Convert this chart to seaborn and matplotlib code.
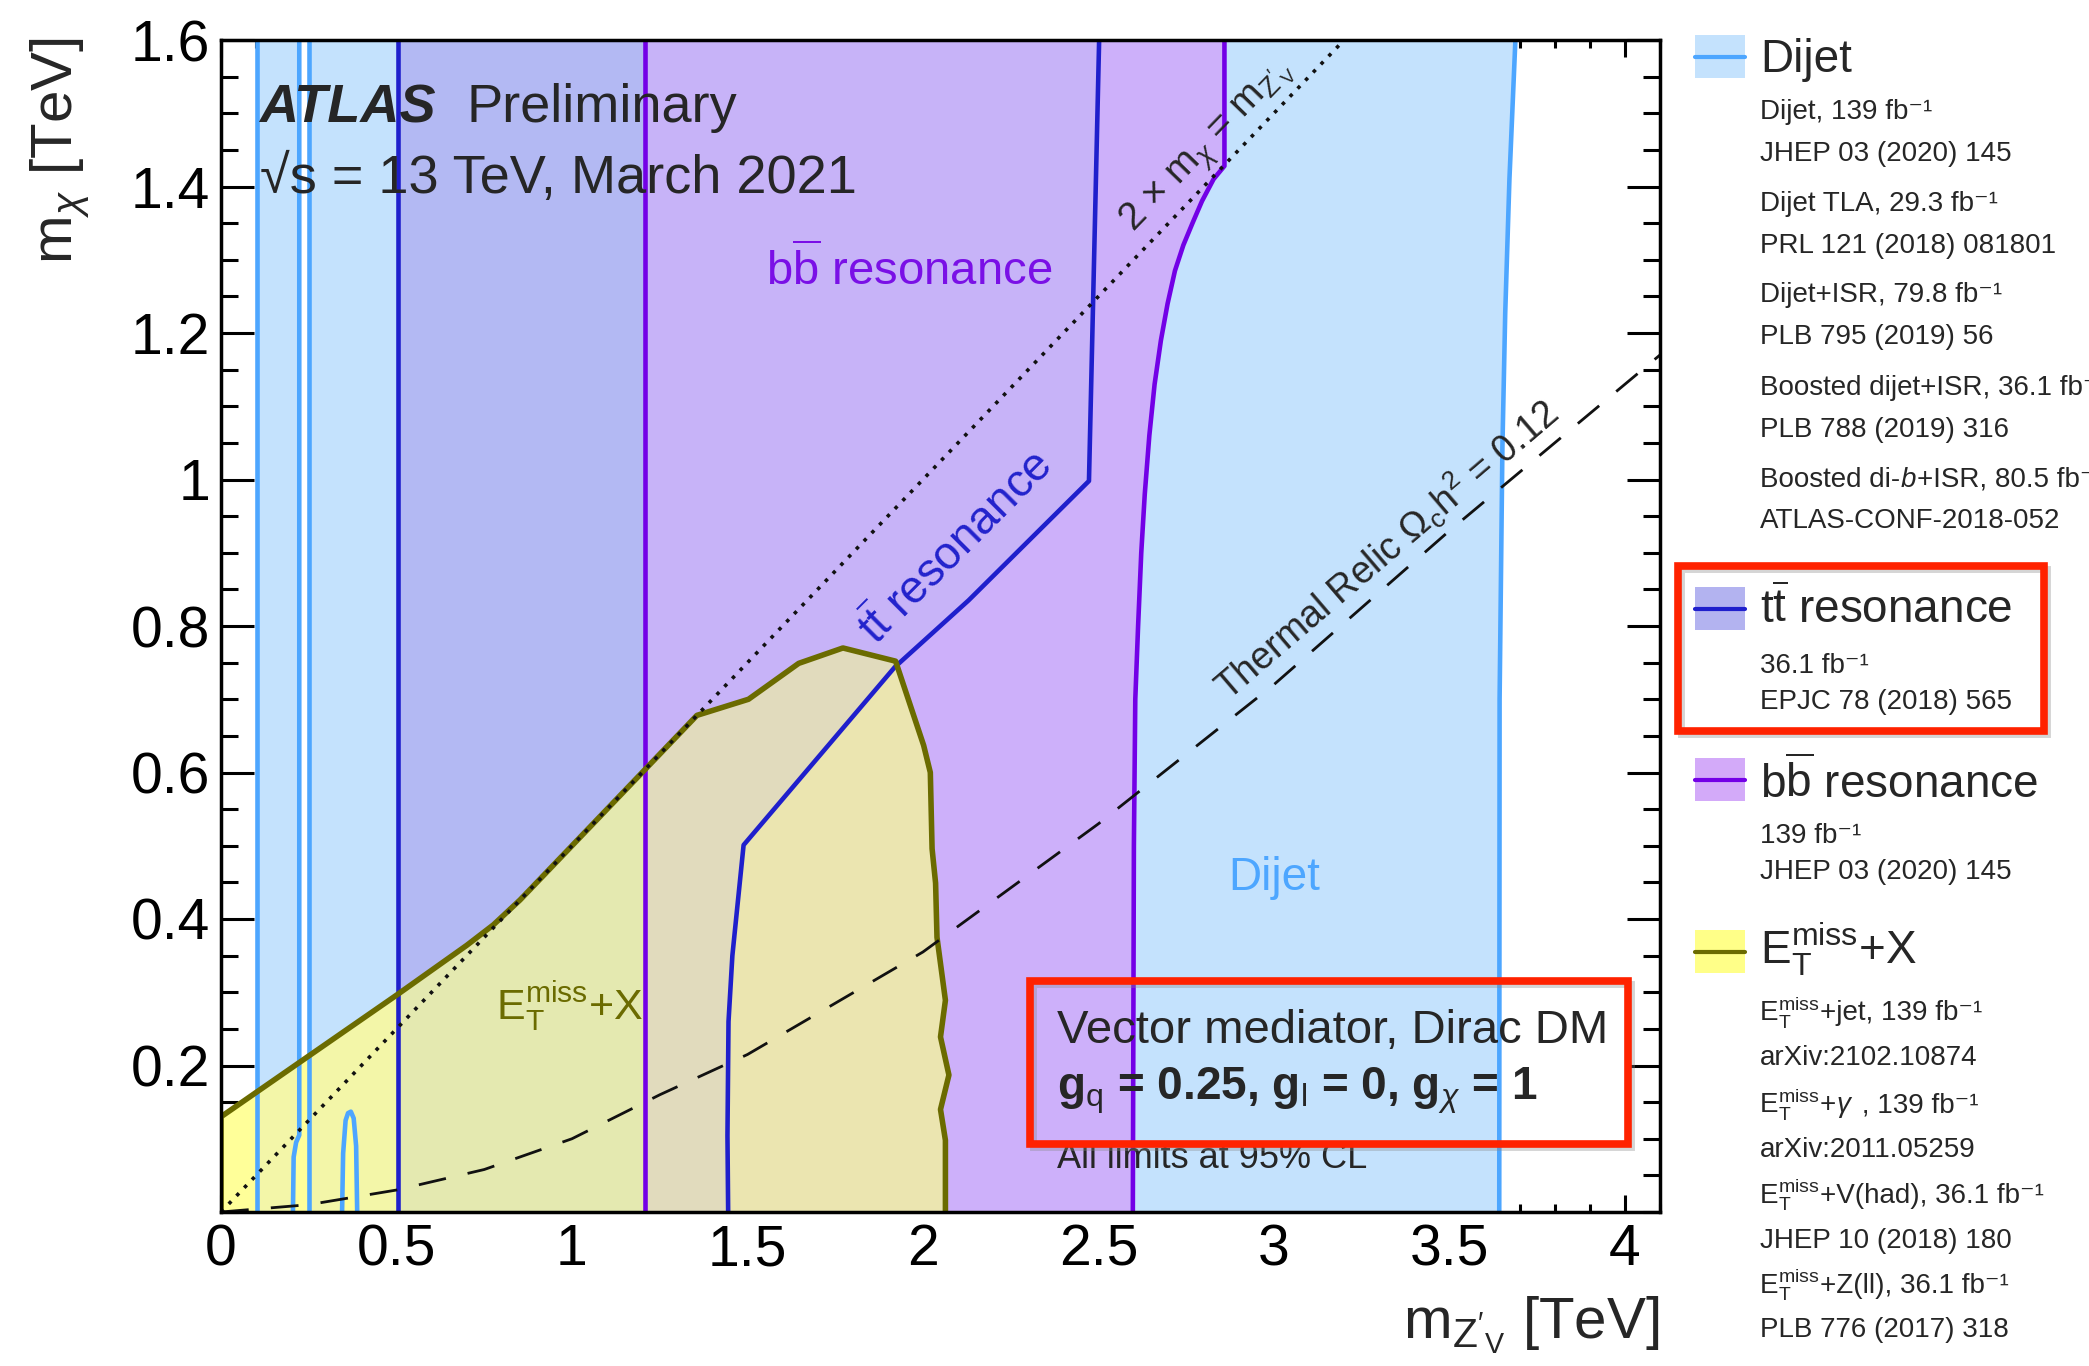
import re
import numpy as np
import matplotlib
matplotlib.use("Agg")
import matplotlib.pyplot as plt
import seaborn as sns
from matplotlib.patches import Polygon, Rectangle
from matplotlib.lines import Line2D
from matplotlib.ticker import MultipleLocator, FuncFormatter

# ---------------- exclusion contours (m_Z'V [TeV], m_chi [TeV]) ----------------
dijet_low_x = [0.102, 0.102]
dijet_low_y = [0.0, 1.6]
dijet_gap_left_x = [0.205, 0.207, 0.214, 0.223, 0.223]
dijet_gap_left_y = [0.0, 0.075, 0.095, 0.105, 1.6]
dijet_gap_right_x = [0.252, 0.252]
dijet_gap_right_y = [0.0, 1.6]
dijet_island_x = [0.345, 0.348, 0.355, 0.362, 0.370, 0.378, 0.385, 0.388]
dijet_island_y = [0.0, 0.08, 0.125, 0.135, 0.137, 0.128, 0.09, 0.0]
dijet_high_x = [3.642, 3.643, 3.651, 3.659, 3.671, 3.688]
dijet_high_y = [0.0, 0.70, 1.044, 1.227, 1.41, 1.6]

tt_low_x = [0.503, 0.503]
tt_low_y = [0.0, 1.6]
tt_high_x = [1.445, 1.443, 1.446, 1.457, 1.489, 1.92, 2.13, 2.473, 2.502]
tt_high_y = [0.0, 0.104, 0.26, 0.35, 0.501, 0.744, 0.835, 0.998, 1.6]

bb_low_x = [1.209, 1.209]
bb_low_y = [0.0, 1.6]
bb_high_x = [2.598, 2.601, 2.605, 2.613, 2.622, 2.632, 2.645, 2.660, 2.678, 2.697,
             2.718, 2.742, 2.768, 2.795, 2.828, 2.859, 2.859]
bb_high_y = [0.0, 0.5, 0.7, 0.8, 0.90, 0.98, 1.06, 1.13, 1.19, 1.24,
             1.285, 1.32, 1.35, 1.38, 1.41, 1.428, 1.6]

met_x = [0.0, 0.0, 0.5, 0.70, 0.776, 0.852, 1.08, 1.214, 1.356, 1.503, 1.646,
         1.772, 1.922, 2.002, 2.021, 2.026, 2.036, 2.040, 2.064, 2.050, 2.074,
         2.050, 2.064, 2.064]
met_y = [0.0, 0.13, 0.296, 0.364, 0.392, 0.426, 0.54, 0.607, 0.678, 0.70, 0.749,
         0.77, 0.752, 0.637, 0.60, 0.496, 0.449, 0.375, 0.289, 0.239, 0.187,
         0.14, 0.098, 0.0]

relic_x = [0.0, 0.25, 0.5, 0.75, 1.0, 1.25, 1.5, 2.0, 2.5, 3.0, 3.5, 4.0, 4.1]
relic_y = [0.0, 0.01, 0.03, 0.058, 0.1, 0.16, 0.215, 0.355, 0.53, 0.72, 0.93, 1.13, 1.17]

kin_x = [0.0, 3.2]
kin_y = [0.0, 1.6]

x_ticks = [0, 0.5, 1, 1.5, 2, 2.5, 3, 3.5, 4]
y_ticks = [0.2, 0.4, 0.6, 0.8, 1.0, 1.2, 1.4, 1.6]

legend_titles = ["Dijet", r"t$\overline{\rm t}$ resonance",
                 r"b$\overline{\rm b}$ resonance", r"E$_{\rm T}^{\rm miss}$+X"]
legend_details = [
    ["Dijet, 139 fb⁻¹", "JHEP 03 (2020) 145",
     "Dijet TLA, 29.3 fb⁻¹", "PRL 121 (2018) 081801",
     "Dijet+ISR, 79.8 fb⁻¹", "PLB 795 (2019) 56",
     "Boosted dijet+ISR, 36.1 fb⁻¹", "PLB 788 (2019) 316",
     r"Boosted di-$b$+ISR, 80.5 fb⁻¹", "ATLAS-CONF-2018-052"],
    ["36.1 fb⁻¹", "EPJC 78 (2018) 565"],
    ["139 fb⁻¹", "JHEP 03 (2020) 145"],
    [r"E$_{\rm T}^{\rm miss}$+jet, 139 fb⁻¹", "arXiv:2102.10874",
     r"E$_{\rm T}^{\rm miss}$+$\gamma$ , 139 fb⁻¹", "arXiv:2011.05259",
     r"E$_{\rm T}^{\rm miss}$+V(had), 36.1 fb⁻¹", "JHEP 10 (2018) 180",
     r"E$_{\rm T}^{\rm miss}$+Z(ll), 36.1 fb⁻¹", "PLB 776 (2017) 318"],
]

# ---------------- style ----------------
sns.set_theme(style="ticks")
plt.rcParams["font.family"] = ["Liberation Sans", "DejaVu Sans"]
plt.rcParams["mathtext.fontset"] = "custom"
plt.rcParams["mathtext.rm"] = "Liberation Sans"
plt.rcParams["mathtext.it"] = "Liberation Sans:italic"
plt.rcParams["mathtext.bf"] = "Liberation Sans:bold"
plt.rcParams["mathtext.sf"] = "Liberation Sans"

C_DIJET_LINE = "#4da6ff"
C_DIJET_FILL = "#c4e2fd"
C_TT_LINE = "#1f1fcc"
C_TT_FILL = "#b3b9f3"
C_BB_LINE = "#7300e6"
C_BB_FILL = "#cdb0fa"
C_TTBB_FILL = "#c7b3f8"
C_MET_LINE = "#6b6b00"
C_MET_FILL = "#ffff99"

W, H = 2089, 1366
fig = plt.figure(figsize=(W / 100, H / 100), dpi=100)
fig.patch.set_facecolor("white")
ax = fig.add_axes([221 / W, 1 - 1212 / H, (1660 - 221) / W, (1212 - 40) / H])
ax.set_facecolor("white")
ax.set_xlim(0, 4.1)
ax.set_ylim(0, 1.6)


def poly(xs, ys):
    return np.column_stack([xs, ys])


dijet_left = np.vstack([poly(dijet_low_x, dijet_low_y),
                        poly(dijet_gap_left_x, dijet_gap_left_y)[::-1]])
dijet_main = np.vstack([poly(dijet_gap_right_x, dijet_gap_right_y),
                        poly(dijet_high_x, dijet_high_y)[::-1]])
island = poly(dijet_island_x, dijet_island_y)
tt_region = np.vstack([poly(tt_low_x, tt_low_y), poly(tt_high_x, tt_high_y)[::-1]])
bb_region = np.vstack([poly(bb_low_x, bb_low_y), poly(bb_high_x, bb_high_y)[::-1]])
ttbb_region = np.vstack([poly(bb_low_x, bb_low_y), poly(tt_high_x, tt_high_y)[::-1]])
met_region = poly(met_x, met_y)

# filled exclusion areas
for reg in (dijet_left, dijet_main):
    ax.add_patch(Polygon(reg, closed=True, fc=C_DIJET_FILL, ec="none", zorder=1))
ax.add_patch(Polygon(tt_region, closed=True, fc=C_TT_FILL, ec="none", zorder=2))
ax.add_patch(Polygon(bb_region, closed=True, fc=C_BB_FILL, ec="none", zorder=3))
ax.add_patch(Polygon(ttbb_region, closed=True, fc=C_TTBB_FILL, ec="none", zorder=3.1))
ax.add_patch(Polygon(met_region, closed=True, fc=C_MET_FILL, ec="none", zorder=4))

# overlap tints of the E_T^miss+X area with the other exclusions
overlaps = [(dijet_left, "#f3f6a8", 4.1), (dijet_main, "#f3f6a8", 4.1),
            (island, C_MET_FILL, 4.2), (tt_region, "#e4e9b0", 4.3),
            (bb_region, "#ebe5b0", 4.4), (ttbb_region, "#e1dbbd", 4.5)]
for reg, col, z in overlaps:
    clip = Polygon(reg, closed=True, transform=ax.transData)
    p = Polygon(met_region, closed=True, fc=col, ec="none", zorder=z)
    ax.add_patch(p)
    p.set_clip_path(clip)


# contour lines
def line(xs, ys, color, lw, z=6, **kw):
    sns.lineplot(x=xs, y=ys, sort=False, estimator=None, color=color,
                 linewidth=lw, ax=ax, zorder=z, **kw)


for xs, ys in [(dijet_low_x, dijet_low_y), (dijet_gap_left_x, dijet_gap_left_y),
               (dijet_gap_right_x, dijet_gap_right_y), (dijet_island_x, dijet_island_y),
               (dijet_high_x, dijet_high_y)]:
    line(xs, ys, C_DIJET_LINE, 3.3)
line(tt_low_x, tt_low_y, C_TT_LINE, 3.3)
line(tt_high_x, tt_high_y, C_TT_LINE, 3.3)
line(bb_low_x, bb_low_y, C_BB_LINE, 3.3)
line(bb_high_x, bb_high_y, C_BB_LINE, 3.3)
line(met_x, met_y, C_MET_LINE, 4.0, z=6.5)
line(kin_x, kin_y, "#111111", 2.6, z=7, linestyle=(0, (1, 2.1)))
line(relic_x, relic_y, "#111111", 2.0, z=7, linestyle=(0, (10, 8)))

# axes, ticks
ax.set_xticks(x_ticks)
ax.xaxis.set_minor_locator(MultipleLocator(0.1))
ax.set_yticks(y_ticks)
ax.yaxis.set_minor_locator(MultipleLocator(0.05))
ax.xaxis.set_major_formatter(FuncFormatter(lambda v, p: f"{v:g}"))
ax.yaxis.set_major_formatter(FuncFormatter(lambda v, p: f"{v:g}"))
ax.tick_params(direction="in", top=True, right=True, which="both", width=2.2,
               color="black", labelsize=41, labelcolor="black")
ax.tick_params(axis="x", which="major", length=12, pad=8)
ax.tick_params(axis="x", which="minor", length=6)
ax.tick_params(axis="y", which="major", length=24, pad=8)
ax.tick_params(axis="y", which="minor", length=12)
for s in ax.spines.values():
    s.set_linewidth(2.5)
    s.set_color("black")
    s.set_zorder(10)
ax.set_xlabel("")
ax.set_ylabel("")

fig.text(60 / W, 1 - 37 / H, r"m$_{\chi}$ [TeV]", rotation=90, ha="center",
         va="top", fontsize=42)
fig.text(1660 / W, 1 - 1339 / H, r"m$_{\rm Z'_{V}}$ [TeV]", ha="right",
         va="baseline", fontsize=42)

# in-plot annotations
ax.text(0.108, 1.488, "ATLAS", fontsize=39, fontweight="bold", fontstyle="italic",
        va="baseline", zorder=9)
ax.text(0.699, 1.488, "Preliminary", fontsize=39, va="baseline", zorder=9)
ax.text(0.112, 1.391, "√s = 13 TeV, March 2021", fontsize=39,
        va="baseline", zorder=9)
ax.text(1.554, 1.264, r"b$\overline{\rm b}$ resonance", fontsize=34,
        color="#7a10e6", va="baseline", zorder=9)
ax.text(2.871, 0.44, "Dijet", fontsize=33, color=C_DIJET_LINE, va="baseline", zorder=9)
ax.text(0.784, 0.263, r"E$_{\rm T}^{\rm miss}$+X", fontsize=31, color=C_MET_LINE,
        va="baseline", zorder=9)
ax.text(2.095, 0.906, r"t$\overline{\rm t}$ resonance", fontsize=33, color="#2222cc",
        rotation=45, ha="center", va="center", rotation_mode="anchor", zorder=9)
ax.text(2.81, 1.455, r"2 $\times$ m$_{\chi}$ = m$_{\rm Z'_{V}}$", fontsize=28,
        rotation=46, ha="center", va="center", rotation_mode="anchor", zorder=9)
ax.text(3.32, 0.905, r"Thermal Relic $\Omega_{\rm c}$h$^{2}$ = 0.12", fontsize=27,
        rotation=40.5, ha="center", va="center", rotation_mode="anchor", zorder=9)
ax.text(2.383, 0.231, "Vector mediator, Dirac DM", fontsize=34, va="baseline", zorder=9)
ax.text(2.383, 0.153, r"g$_{\rm q}$ = 0.25, g$_{\rm l}$ = 0, g$_{\chi}$ = 1",
        fontsize=33, fontweight="bold", va="baseline", zorder=9)
ax.text(2.383, 0.06, "All limits at 95% CL", fontsize=26, va="baseline", zorder=9)


def frame(x0, y0, x1, y1):
    sh = Rectangle((x0 / W + 0.0015, 1 - y1 / H - 0.002), (x1 - x0) / W, (y1 - y0) / H,
                   transform=fig.transFigure, fill=False, ec="#888888", lw=5,
                   alpha=0.35, zorder=4)
    fig.add_artist(sh)
    r = Rectangle((x0 / W, 1 - y1 / H), (x1 - x0) / W, (y1 - y0) / H,
                  transform=fig.transFigure, fill=False, ec="#ff2200", lw=5.5, zorder=5)
    fig.add_artist(r)


frame(1030, 981, 1628, 1144)
frame(1678, 566, 2044, 731)

renderer = fig.canvas.get_renderer()


def run_text(x_px, y_px, s, size):
    """Draw a line made of plain and $math$ pieces placed one after another."""
    x = x_px
    for piece in re.split(r"(\$[^$]*\$)", s):
        if not piece:
            continue
        t = fig.text(x / W, 1 - y_px / H, piece, fontsize=size, va="baseline")
        if piece.endswith(" "):
            t.set_text(piece.rstrip())
            extra = 0.28 * size * 100 / 72 * (len(piece) - len(piece.rstrip()))
        else:
            extra = 0.0
        x = t.get_window_extent(renderer).x1 + extra


# legend
sw_fill = [C_DIJET_FILL, "#b3b3f0", "#d3aaf9", "#ffff88"]
sw_line = [C_DIJET_LINE, C_TT_LINE, C_BB_LINE, C_MET_LINE]
sw_top = [35, 587, 758, 930]
title_base = [72, 623, 798, 963]
detail_base = [[119, 161, 211, 253, 302, 344, 395, 437, 487, 528],
               [673, 709], [843, 879],
               [1020, 1065, 1112, 1157, 1203, 1248, 1293, 1337]]
for i in range(4):
    t = sw_top[i]
    fig.add_artist(Rectangle((1695 / W, 1 - (t + 43) / H), 50 / W, 43 / H,
                             transform=fig.transFigure, fc=sw_fill[i], ec="none", zorder=6))
    fig.add_artist(Line2D([1695 / W, 1745 / W], [1 - (t + 21.5) / H] * 2,
                          transform=fig.transFigure, color=sw_line[i], lw=3, zorder=7))
    fig.text(1760 / W, 1 - title_base[i] / H, legend_titles[i], fontsize=33,
             va="baseline")
    for txt, yb in zip(legend_details[i], detail_base[i]):
        run_text(1760, yb, txt, 20)

fig.savefig("out.png", dpi=100, facecolor="white")
